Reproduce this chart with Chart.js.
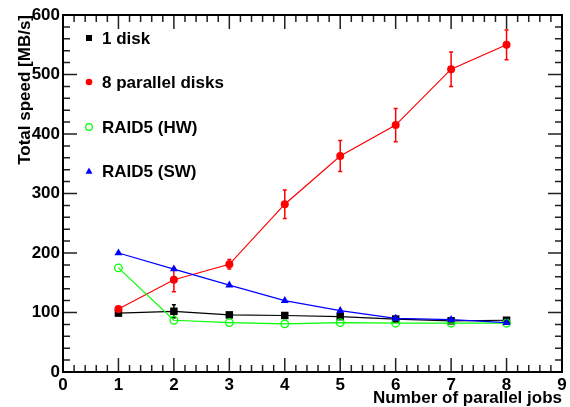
<!DOCTYPE html>
<html>
<head>
<meta charset="utf-8">
<script src="https://cdn.jsdelivr.net/npm/chart.js@4.4.0/dist/chart.umd.min.js"></script>
<style>
  html, body { margin: 0; padding: 0; background: #fff; }
  #wrap { width: 570px; height: 407px; }
</style>
</head>
<body>
<div id="wrap"><canvas id="speedChart" width="570" height="407"></canvas></div>
<script>
  // Data
  const jobs = [1, 2, 3, 4, 5, 6, 7, 8];
  const oneDisk = [99, 102, 96, 95, 93, 89, 86, 87];
  const oneDiskErr = [0, 11, 0, 0, 0, 0, 0, 0];
  const parallelDisks = [106, 155, 181, 282, 363, 415, 509, 550];
  const parallelErr = [0, 20, 8, 24, 26, 28, 29, 25];
  const raidHW = [175, 87, 83, 81, 83, 82, 82, 82];
  const raidSW = [200, 173, 146, 120, 103, 90, 88, 83];

  const legendLabels = ['1 disk', '8 parallel disks', 'RAID5 (HW)', 'RAID5 (SW)'];

  const FONT = "'Liberation Sans', Arial, sans-serif";

  function toPoints(ys) {
    return jobs.map((x, i) => ({ x: x, y: ys[i] }));
  }

  // Error bars, ROOT style inside-ticks frame and legend
  const rootStyle = {
    id: 'rootStyle',
    beforeDatasetsDraw(chart) {
      const ctx = chart.ctx;
      const xs = chart.scales.x, ys = chart.scales.y;
      const bars = [
        { vals: oneDisk, errs: oneDiskErr, color: '#000000' },
        { vals: parallelDisks, errs: parallelErr, color: '#ff0000' }
      ];
      ctx.save();
      ctx.lineWidth = 1.5;
      bars.forEach(b => {
        ctx.strokeStyle = b.color;
        jobs.forEach((j, i) => {
          if (!b.errs[i]) return;
          const px = xs.getPixelForValue(j);
          const top = ys.getPixelForValue(b.vals[i] + b.errs[i]);
          const bot = ys.getPixelForValue(b.vals[i] - b.errs[i]);
          ctx.beginPath();
          ctx.moveTo(px, top); ctx.lineTo(px, bot);
          ctx.moveTo(px - 2, top); ctx.lineTo(px + 2, top);
          ctx.moveTo(px - 2, bot); ctx.lineTo(px + 2, bot);
          ctx.stroke();
        });
      });
      ctx.restore();
    },
    afterDraw(chart) {
      const ctx = chart.ctx;
      const a = chart.chartArea;
      const xs = chart.scales.x, ys = chart.scales.y;
      ctx.save();
      // ticks
      ctx.strokeStyle = '#222';
      ctx.lineWidth = 1.5;
      ctx.beginPath();
      for (let i = 0; i <= 45; i++) {
        const px = xs.getPixelForValue(i / 5);
        const len = i % 5 === 0 ? 14 : 7;
        ctx.moveTo(px, a.bottom); ctx.lineTo(px, a.bottom - len);
        ctx.moveTo(px, a.top); ctx.lineTo(px, a.top + len);
      }
      for (let i = 0; i <= 30; i++) {
        const py = ys.getPixelForValue(i * 20);
        const len = i % 5 === 0 ? 14 : 7;
        ctx.moveTo(a.left, py); ctx.lineTo(a.left + len, py);
        ctx.moveTo(a.right, py); ctx.lineTo(a.right - len, py);
      }
      ctx.stroke();
      // frame
      ctx.strokeStyle = '#000';
      ctx.lineWidth = 2;
      ctx.strokeRect(a.left, a.top, a.right - a.left, a.bottom - a.top);

      // legend
      const rows = [38, 82, 127, 171];
      const mx = 89;
      rows.forEach((y, i) => {
        ctx.lineWidth = 1.2;
        if (i === 0) {
          ctx.fillStyle = '#000';
          ctx.fillRect(mx - 3, y - 3, 6, 6);
        } else if (i === 1) {
          ctx.fillStyle = '#ff0000';
          ctx.beginPath(); ctx.arc(mx, y, 3.3, 0, Math.PI * 2); ctx.fill();
        } else if (i === 2) {
          ctx.strokeStyle = '#00ff00';
          ctx.beginPath(); ctx.arc(mx, y, 3.3, 0, Math.PI * 2); ctx.stroke();
        } else {
          ctx.fillStyle = '#0000ff';
          ctx.beginPath();
          ctx.moveTo(mx, y - 3.5); ctx.lineTo(mx + 3.5, y + 2.8); ctx.lineTo(mx - 3.5, y + 2.8);
          ctx.closePath(); ctx.fill();
        }
        ctx.fillStyle = '#000';
        ctx.font = 'bold 17px ' + FONT;
        ctx.textAlign = 'left';
        ctx.textBaseline = 'middle';
        ctx.fillText(legendLabels[i], 102, y + 1);
      });
      ctx.restore();
    }
  };

  const ctx = document.getElementById('speedChart').getContext('2d');
  const chart = new Chart(ctx, {
    type: 'line',
    data: {
      datasets: [
        {
          label: legendLabels[0],
          data: toPoints(oneDisk),
          borderColor: '#000000',
          borderWidth: 1.2,
          pointStyle: 'rect',
          pointRadius: 5.3,
          pointBackgroundColor: '#000000',
          pointBorderColor: '#000000',
          pointBorderWidth: 0,
          order: 4
        },
        {
          label: legendLabels[1],
          data: toPoints(parallelDisks),
          borderColor: '#ff0000',
          borderWidth: 1.2,
          pointStyle: 'circle',
          pointRadius: 4,
          pointBackgroundColor: '#ff0000',
          pointBorderColor: '#ff0000',
          pointBorderWidth: 0,
          order: 3
        },
        {
          label: legendLabels[2],
          data: toPoints(raidHW),
          borderColor: '#00ff00',
          borderWidth: 1.2,
          pointStyle: 'circle',
          pointRadius: 3.8,
          pointBackgroundColor: 'rgba(0,0,0,0)',
          pointBorderColor: '#00ff00',
          pointBorderWidth: 1.3,
          order: 2
        },
        {
          label: legendLabels[3],
          data: toPoints(raidSW),
          borderColor: '#0000ff',
          borderWidth: 1.2,
          pointStyle: 'triangle',
          pointRadius: 4.6,
          pointBackgroundColor: '#0000ff',
          pointBorderColor: '#0000ff',
          pointBorderWidth: 0,
          order: 1
        }
      ]
    },
    options: {
      responsive: false,
      animation: false,
      devicePixelRatio: 1,
      events: [],
      layout: { padding: { left: 0, right: 8, top: 15, bottom: 0 } },
      elements: { line: { tension: 0, fill: false } },
      scales: {
        x: {
          type: 'linear',
          min: 0,
          max: 9,
          grid: { display: false, drawTicks: false },
          border: { display: false },
          ticks: {
            stepSize: 1,
            padding: 3,
            color: '#000',
            font: { family: FONT, size: 17, weight: 'bold' }
          },
          title: {
            display: true,
            text: 'Number of parallel jobs',
            align: 'end',
            color: '#000',
            padding: { top: 0, bottom: 0 },
            font: { family: FONT, size: 17, weight: 'bold', lineHeight: 1 }
          },
          afterFit(scale) { scale.height = 35; }
        },
        y: {
          type: 'linear',
          min: 0,
          max: 600,
          grid: { display: false, drawTicks: false },
          border: { display: false },
          ticks: {
            stepSize: 100,
            padding: 3,
            color: '#000',
            font: { family: FONT, size: 17, weight: 'bold' }
          },
          title: {
            display: true,
            text: 'Total speed [MB/s]',
            align: 'end',
            color: '#000',
            padding: { top: 17, bottom: 0 },
            font: { family: FONT, size: 17, weight: 'bold', lineHeight: 1 }
          },
          afterFit(scale) { scale.width = 63; }
        }
      },
      plugins: {
        legend: { display: false },
        tooltip: { enabled: false }
      }
    },
    plugins: [rootStyle]
  });
</script>
</body>
</html>
